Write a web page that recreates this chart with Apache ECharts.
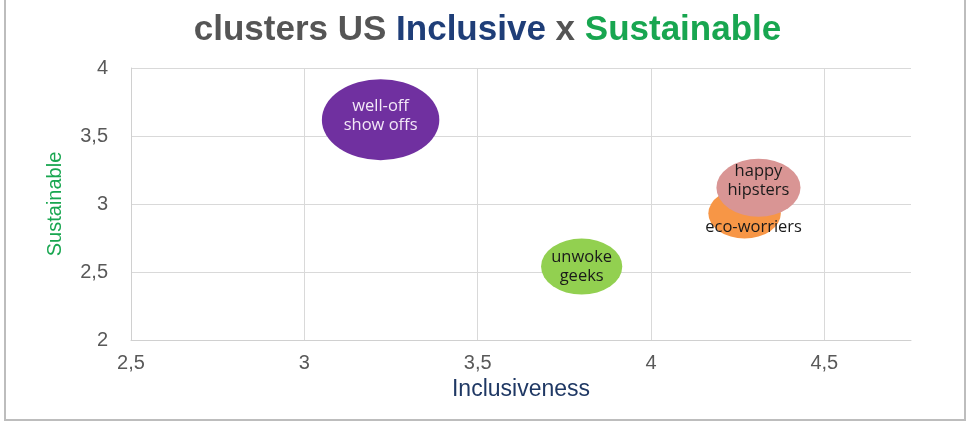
<!DOCTYPE html>
<html>
<head>
<meta charset="utf-8">
<script src="https://cdn.jsdelivr.net/npm/echarts@6/dist/echarts.min.js"></script>
<style>
html,body{margin:0;padding:0;background:#fff;}
#chart{width:975px;height:423px;}
</style>
</head>
<body>
<div id="chart"></div>
<script>
// ---- data ----
var clusterNames = ['well-off\nshow offs', 'unwoke\ngeeks', 'eco-worriers', 'happy\nhipsters'];
var inclusiveness = [3.22, 3.80, 4.27, 4.31];
var sustainable   = [3.62, 2.54, 2.93, 3.12];
var bubbleSize    = [81, 56, 50, 58];
var xTicks = [2.5, 3, 3.5, 4, 4.5];
var yTicks = [2, 2.5, 3, 3.5, 4];

// ---- styles ----
var bubbleColors = ['#7030A0', '#92D050', '#F79646', '#D99594'];
var labelColors  = ['#F3E8F7', '#1a1a1a', '#1a1a1a', '#1a1a1a'];
var labelOffsets = [[0, -4], [0, 0], [9, 14], [0, -7]];
var ASPECT = 1.45;

function fmt(v) { return String(v).replace('.', ','); }

var data = clusterNames.map(function (n, i) {
  return {
    name: n,
    value: [inclusiveness[i], sustainable[i], bubbleSize[i]],
    itemStyle: { color: bubbleColors[i], opacity: 1 },
    label: { color: labelColors[i], offset: labelOffsets[i] }
  };
});

var chart = echarts.init(document.getElementById('chart'), null, { renderer: 'canvas' });
chart.setOption({
  backgroundColor: '#ffffff',
  animation: false,
  title: {
    left: 'center',
    top: 8,
    text: '{a|clusters US }{b|Inclusive}{a| x }{c|Sustainable}',
    textStyle: {
      rich: {
        a: { fontFamily: 'Liberation Sans', fontWeight: 'bold', fontSize: 35, color: '#555555' },
        b: { fontFamily: 'Liberation Sans', fontWeight: 'bold', fontSize: 35, color: '#1F3E78' },
        c: { fontFamily: 'Liberation Sans', fontWeight: 'bold', fontSize: 35, color: '#18A650' }
      }
    }
  },
  graphic: [{
    type: 'rect',
    shape: { x: 5, y: -10, width: 960, height: 430 },
    style: { fill: 'none', stroke: '#bdbdbd', lineWidth: 2 },
    silent: true
  }],
  grid: { left: 131, right: 64, top: 68, bottom: 83 },
  xAxis: {
    type: 'value',
    min: xTicks[0], max: 4.75, interval: 0.5,
    name: 'Inclusiveness',
    nameLocation: 'middle',
    nameGap: 33,
    nameTextStyle: { fontFamily: 'Liberation Sans', fontSize: 23, color: '#1F3864' },
    axisLine: { show: true, lineStyle: { color: '#d0d0d0', width: 1 } },
    axisTick: { show: false },
    axisLabel: {
      margin: 13, fontFamily: 'Liberation Sans', fontSize: 20, color: '#595959',
      showMaxLabel: false,
      formatter: function (v) { return xTicks.indexOf(v) >= 0 ? fmt(v) : ''; }
    },
    splitLine: { show: true, showMaxLine: false, lineStyle: { color: '#d9d9d9', width: 1 } }
  },
  yAxis: {
    type: 'value',
    min: yTicks[0], max: yTicks[yTicks.length - 1], interval: 0.5,
    name: 'Sustainable',
    nameLocation: 'middle',
    nameGap: 66,
    nameTextStyle: { fontFamily: 'Liberation Sans', fontSize: 20, color: '#18A650' },
    axisLine: { show: true, lineStyle: { color: '#d0d0d0', width: 1 } },
    axisTick: { show: false },
    axisLabel: {
      margin: 23, fontFamily: 'Liberation Sans', fontSize: 20, color: '#595959',
      formatter: function (v) { return fmt(v); }
    },
    splitLine: { show: true, lineStyle: { color: '#d9d9d9', width: 1 } }
  },
  series: [{
    type: 'scatter',
    data: data,
    symbol: 'circle',
    symbolSize: function (val) { return [val[2] * ASPECT, val[2]]; },
    label: {
      show: true,
      position: 'inside',
      formatter: function (p) { return p.name; },
      fontFamily: 'Open Sans',
      fontSize: 16.5,
      lineHeight: 19
    },
    emphasis: { disabled: true }
  }]
});
</script>
</body>
</html>
